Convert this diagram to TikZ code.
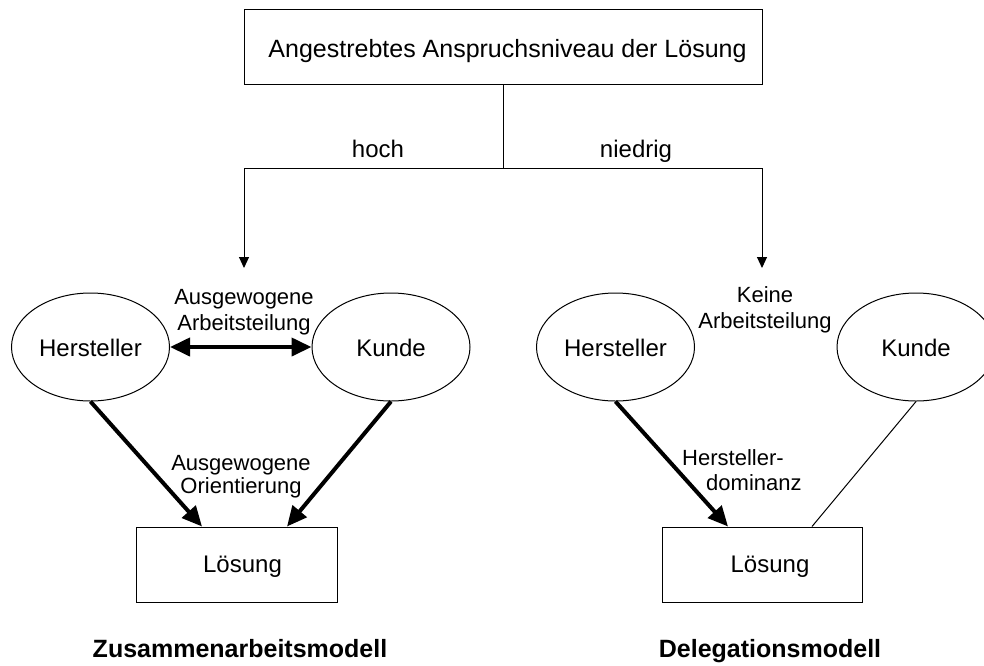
\documentclass[tikz,border=0pt]{standalone}
\usepackage{fontspec}
\setmainfont{Liberation Sans}
\usetikzlibrary{shapes.geometric,arrows.meta,calc}
\begin{document}
\begin{tikzpicture}[x=1pt,y=-1pt,
  every node/.style={font=\fontsize{24}{28}\selectfont},
  box/.style={draw,line width=1pt,rectangle,inner sep=0pt},
  oval/.style={draw,line width=1pt,ellipse,inner sep=0pt,minimum width=158pt,minimum height=108pt,text height=18pt,text depth=0pt},
  lab/.style={font=\fontsize{22}{26}\selectfont,align=center,anchor=base,inner sep=0pt},
  ttl/.style={font=\fontsize{25}{30}\selectfont\bfseries,anchor=base,inner sep=0pt},
  conn/.style={line width=1pt},
  heavy/.style={line width=4pt},
  smalltip/.style={-{Triangle[length=11pt,width=10pt]}},
  bigtip/.style={-{Triangle[length=20pt,width=18pt]}},
  bothtip/.style={{Triangle[length=20pt,width=18pt]}-{Triangle[length=20pt,width=18pt]}}]
\useasboundingbox (0,0) rectangle (984,665);

% boxes
\node[box,minimum width=518pt,minimum height=75pt,text height=21pt,text depth=0pt,font=\fontsize{25}{30}\selectfont] (top) at (503,46.5) {\hspace*{9pt}Angestrebtes Anspruchsniveau der Lösung};
\node[box,minimum width=201pt,minimum height=75pt,text height=17.5pt,text depth=2.5pt] (l1) at (236.5,564.5) {\hspace*{12pt}Lösung};
\node[box,minimum width=200pt,minimum height=75pt,text height=17.5pt,text depth=2.5pt] (l2) at (762,564.5) {\hspace*{16pt}Lösung};

% ellipses
\node[oval] (h1) at (90.5,347) {Hersteller};
\node[oval] (k1) at (391,347) {Kunde};
\node[oval] (h2) at (615.5,347) {Hersteller};
\node[oval] (k2) at (916,347) {Kunde};

% labels (base anchor = baseline of the last line)
\node[lab,font=\fontsize{24}{28}\selectfont] (hoch) at (378,157) {hoch};
\node[lab,font=\fontsize{24}{28}\selectfont] (niedrig) at (636,157) {niedrig};
\node[lab] (aa) at (244,330) {Ausgewogene\\Arbeitsteilung};
\node[lab] (ka) at (765,328) {Keine\\Arbeitsteilung};
\node[lab,font=\fontsize{22}{23.5}\selectfont] (ao) at (241,493.5) {Ausgewogene\\Orientierung};
\node[lab,align=left,anchor=base west,font=\fontsize{22}{25}\selectfont] (hd) at (682,490) {Hersteller-\\\hspace*{24pt}dominanz};
\node[ttl] (zm) at (240,657) {Zusammenarbeitsmodell};
\node[ttl] (dm) at (770,657) {Delegationsmodell};

% top connectors
\coordinate (j) at (503,168);
\coordinate (tl) at (244,268);
\coordinate (tr) at (762,268);
\draw[conn] (top.south) -- (j);
\draw[conn,smalltip] (j) -| (tl);
\draw[conn,smalltip] (j) -| (tr);

% left model
\draw[heavy,bothtip] (h1.east) -- (k1.west);
\draw[heavy,bigtip] (h1.south) -- ($(l1.north)+(-34.5,0)$);
\draw[heavy,bigtip] (k1.south) -- ($(l1.north)+(50.5,0)$);

% right model
\draw[heavy,bigtip] (h2.south) -- ($(l2.north)+(-34,0)$);
\draw[conn] (k2.south) -- ($(l2.north)+(50,0)$);
\end{tikzpicture}
\end{document}
